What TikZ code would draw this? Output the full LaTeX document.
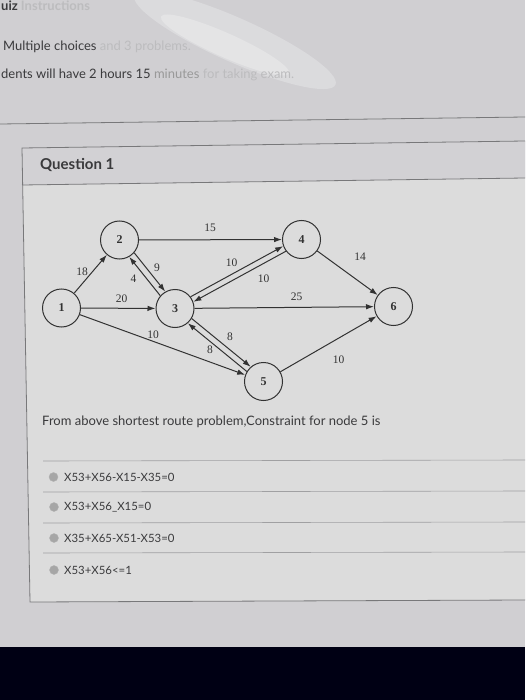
\documentclass[tikz,border=0pt]{standalone}
\usepackage{fontspec}
\setmainfont{Lato}
\newfontfamily\graphfont{Liberation Serif}
\usetikzlibrary{arrows.meta}
\definecolor{bgc}{RGB}{208,207,210}
\definecolor{panelc}{RGB}{220,220,220}
\definecolor{headc}{RGB}{210,209,212}
\definecolor{inkc}{RGB}{50,50,50}
\definecolor{textc}{RGB}{58,58,60}
\definecolor{fadec}{RGB}{188,188,190}
\definecolor{linec}{RGB}{120,120,122}
\tikzset{
  gnode/.style={circle,draw=inkc,line width=1pt,minimum size=38pt,inner sep=0pt,font=\graphfont\bfseries\fontsize{12}{13}\selectfont,text=inkc},
  glabel/.style={font=\graphfont\fontsize{11.5}{12}\selectfont,text=inkc,inner sep=0pt},
  garc/.style={draw=inkc,line width=1pt,-{Latex[length=8pt,width=5.5pt]}},
  uitext/.style={anchor=west,inner sep=0pt,text=textc,font=\fontsize{13}{15}\selectfont},
  opttext/.style={anchor=west,inner sep=0pt,text=textc,font=\fontsize{11.4}{13}\selectfont},
  radio/.style={circle,fill=gray!70,draw=gray!60,minimum size=9pt,inner sep=0pt},
  sepline/.style={draw=linec!70,line width=0.6pt}
}
\begin{document}
\begin{tikzpicture}[x=1pt,y=-1pt]
\useasboundingbox (0,0) rectangle (525,700);
% background
\fill[bgc] (0,0) rectangle (525,700);
% glare
\fill[white,opacity=0.25,rotate around={-24:(235,40)}] (235,40) ellipse (110 and 22);
\fill[white,opacity=0.25,rotate around={-24:(225,45)}] (225,45) ellipse (70 and 12);
% top texts
\node[anchor=north west,inner sep=0pt,text=textc,font=\bfseries\fontsize{13}{15}\selectfont] (title) at (1,0.5) {uiz \textcolor{fadec}{Instructions}};
\node[uitext] (l1) at (3,47) {Multiple choices \textcolor{fadec}{and 3 problems.}};
\node[uitext] (l2) at (1,75) {dents will have 2 hours 15 \textcolor{gray!80}{minutes} \textcolor{fadec}{for taking exam.}};
\draw[linec,line width=0.8pt] (0,124) -- (525,117);
% panel
\fill[panelc] (22,148) -- (525,141) -- (525,600) -- (30,602) -- cycle;
\fill[headc] (22,148) -- (525,141) -- (525,178) -- (22,185) -- cycle;
\draw[linec,line width=0.8pt] (525,141) -- (22,148) -- (30,602) -- (525,600);
\draw[linec,line width=0.8pt] (22,185) -- (525,178);
\node[anchor=west,inner sep=0pt,text=textc,font=\bfseries\fontsize{15}{17}\selectfont] (q1) at (40,165) {Question 1};
% graph
\node[gnode] (n1) at (61.5,308) {1};
\node[gnode] (n2) at (119.5,240) {2};
\node[gnode] (n3) at (175,308.5) {3};
\node[gnode] (n4) at (301.5,239.5) {4};
\node[gnode] (n5) at (263.5,381.5) {5};
\node[gnode] (n6) at (393.5,306.5) {6};
\path[garc] (n1) -- (n2);
\path[garc] (n1) -- (n3);
\path[garc] (n1) -- (n5);
\path[garc] (n2) -- (n4);
\path[garc] (n3) -- (n6);
\path[garc] (n4) -- (n6);
\path[garc] (n5) -- (n6);
\path[garc] (n2.-41) -- (n3.120);
\path[garc] (n3.139) -- (n2.-60);
\path[garc] (n3.37) -- (n4.200);
\path[garc] (n4.217) -- (n3.20);
\path[garc] (n3.-31) -- (n5.131);
\path[garc] (n5.149) -- (n3.-49);
\node[glabel] (w12) at (82,271.5) {18};
\node[glabel] (w13) at (121.5,299) {20};
\node[glabel] (w15) at (153,335) {10};
\node[glabel] (w24) at (210,228) {15};
\node[glabel] (w23) at (157,268) {9};
\node[glabel] (w32) at (133.5,279) {4};
\node[glabel] (w34) at (231.5,263) {10};
\node[glabel] (w43) at (263.5,279) {10};
\node[glabel] (w36) at (296.5,297) {25};
\node[glabel] (w35) at (230,336.5) {8};
\node[glabel] (w53) at (210,350) {8};
\node[glabel] (w46) at (360,256.5) {14};
\node[glabel] (w56) at (338.5,360) {10};
% question
\node[uitext] (qt) at (42,422) {From above shortest route problem,Constraint for node 5 is};
\draw[sepline] (43,461) -- (525,460);
\draw[sepline] (43,492) -- (525,491);
\draw[sepline] (43,523) -- (525,522);
\draw[sepline] (43,553) -- (525,552);
\node[radio] (r1) at (53.5,477) {};
\node[radio] (r2) at (54,507) {};
\node[radio] (r3) at (54,538) {};
\node[radio] (r4) at (54,570) {};
\node[opttext] (o1) at (64,477) {X53+X56-X15-X35=0};
\node[opttext] (o2) at (64,507) {X53+X56\_X15=0};
\node[opttext] (o3) at (64,538) {X35+X65-X51-X53=0};
\node[opttext] (o4) at (64,570) {X53+X56<=1};
% bottom dark area
\fill[black!92!blue] (0,647) rectangle (525,700);
\end{tikzpicture}
\end{document}
